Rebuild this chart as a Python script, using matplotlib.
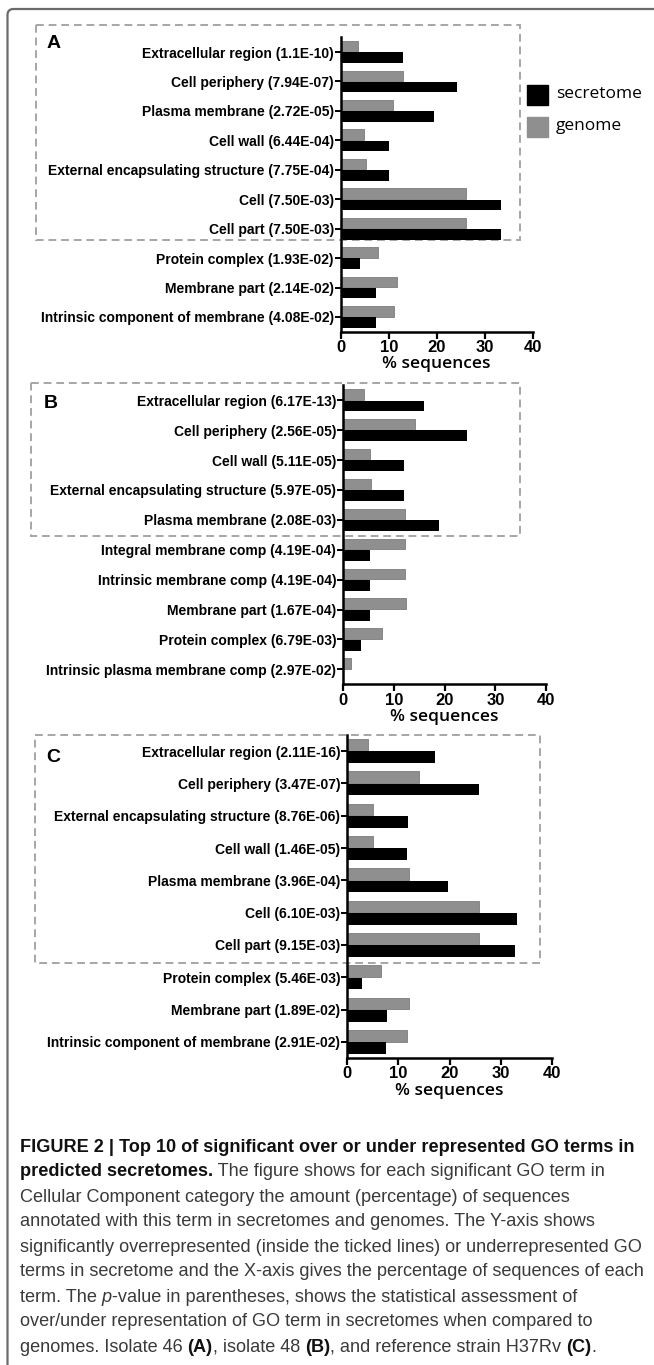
import numpy as np
import matplotlib
matplotlib.use('Agg')
import matplotlib.pyplot as plt
from matplotlib import font_manager
from matplotlib.patches import Rectangle, FancyBboxPatch

W, H = 654, 1365

# ---------------------------------------------------------------------------
# Data (% sequences)
# ---------------------------------------------------------------------------
terms_a = ["Extracellular region (1.1E-10)", "Cell periphery (7.94E-07)",
           "Plasma membrane (2.72E-05)", "Cell wall (6.44E-04)",
           "External encapsulating structure (7.75E-04)", "Cell (7.50E-03)",
           "Cell part (7.50E-03)", "Protein complex (1.93E-02)",
           "Membrane part (2.14E-02)", "Intrinsic component of membrane (4.08E-02)"]
secretome_a = [12.9, 24.2, 19.5, 10.0, 10.1, 33.3, 33.3, 4.1, 7.4, 7.4]
genome_a    = [3.5, 13.0, 10.8, 4.9, 5.2, 26.0, 26.0, 7.8, 11.8, 11.2]

terms_b = ["Extracellular region (6.17E-13)", "Cell periphery (2.56E-05)",
           "Cell wall (5.11E-05)", "External encapsulating structure (5.97E-05)",
           "Plasma membrane (2.08E-03)", "Integral membrane comp (4.19E-04)",
           "Intrinsic membrane comp (4.19E-04)", "Membrane part (1.67E-04)",
           "Protein complex (6.79E-03)", "Intrinsic plasma membrane comp (2.97E-02)"]
secretome_b = [16.0, 24.4, 11.9, 11.9, 18.9, 5.3, 5.3, 5.3, 3.5, 0.0]
genome_b    = [4.1, 14.2, 5.3, 5.4, 12.1, 12.1, 12.1, 12.4, 7.6, 1.6]

terms_c = ["Extracellular region (2.11E-16)", "Cell periphery (3.47E-07)",
           "External encapsulating structure (8.76E-06)", "Cell wall (1.46E-05)",
           "Plasma membrane (3.96E-04)", "Cell (6.10E-03)", "Cell part (9.15E-03)",
           "Protein complex (5.46E-03)", "Membrane part (1.89E-02)",
           "Intrinsic component of membrane (2.91E-02)"]
secretome_c = [17.2, 25.8, 11.9, 11.7, 19.6, 33.1, 32.8, 2.8, 7.7, 7.6]
genome_c    = [4.0, 14.1, 5.1, 5.0, 12.1, 25.7, 25.7, 6.5, 12.1, 11.7]

x_ticks = [0, 10, 20, 30, 40]
series_names = ["secretome", "genome"]

caption_lines = [
    [("FIGURE 2 | Top 10 of significant over or under represented GO terms in", 'b')],
    [("predicted secretomes.", 'b'), (" The figure shows for each significant GO term in", 'r')],
    [("Cellular Component category the amount (percentage) of sequences", 'r')],
    [("annotated with this term in secretomes and genomes. The Y-axis shows", 'r')],
    [("significantly overrepresented (inside the ticked lines) or underrepresented GO", 'r')],
    [("terms in secretome and the X-axis gives the percentage of sequences of each", 'r')],
    [("term. The ", 'r'), ("p", 'i'), ("-value in parentheses, shows the statistical assessment of", 'r')],
    [("over/under representation of GO term in secretomes when compared to", 'r')],
    [("genomes. Isolate 46 ", 'r'), ("(A)", 'b'), (", isolate 48 ", 'r'), ("(B)", 'b'),
     (", and reference strain H37Rv ", 'r'), ("(C)", 'b'), (".", 'r')],
]

GREY = '#8f8f8f'


def has_font(name):
    return any(f.name == name for f in font_manager.fontManager.ttflist)


NARROW = 'Liberation Sans Narrow' if has_font('Liberation Sans Narrow') else 'Liberation Sans'

fig = plt.figure(figsize=(W / 100, H / 100), dpi=100)


def px_axes(left, top, right, bottom, **kw):
    """Axes placed by pixel box (origin top-left)."""
    return fig.add_axes([left / W, 1 - bottom / H, (right - left) / W, (bottom - top) / H], **kw)


# full-figure overlay in pixel units for frame, boxes, legend and caption
bg = px_axes(0, 0, W, H)
bg.set_xlim(0, W)
bg.set_ylim(H, 0)
bg.axis('off')
bg.set_zorder(-1)

bg.add_patch(FancyBboxPatch((7.5, 9), W + 20, H + 20,
                            boxstyle='round,pad=0,rounding_size=6',
                            fill=False, ec='#6a6a6a', lw=1.6))


def draw_panel(box, terms, sec, gen):
    left, top, right, bottom = box
    ax = px_axes(left, top, right, bottom)
    ax.patch.set_alpha(0)
    y = np.arange(len(terms))
    ax.barh(y - 0.19, gen, height=0.36, color=GREY, edgecolor='#7c7c7c', linewidth=0.6)
    ax.barh(y + 0.19, sec, height=0.36, color='black')
    ax.set_ylim(len(terms) - 0.5, -0.5)
    ax.set_xlim(0, 40)
    ax.set_xticks(x_ticks)
    ax.set_xticklabels([str(t) for t in x_ticks], fontfamily=NARROW,
                       fontweight='bold', fontsize=12)
    ax.set_yticks(y)
    ax.set_yticklabels(terms, fontfamily=NARROW, fontweight='bold', fontsize=10)
    for s in ('top', 'right'):
        ax.spines[s].set_visible(False)
    for s in ('left', 'bottom'):
        ax.spines[s].set_linewidth(1.8)
    ax.tick_params(axis='y', length=4, width=1.4, pad=1)
    ax.tick_params(axis='x', length=5, width=1.6, pad=1)
    ax.set_xlabel('% sequences', fontfamily='Open Sans', fontweight='semibold',
                  fontsize=12.5, labelpad=1)
    return ax


draw_panel((340.7, 37.3, 532.7, 331.7), terms_a, secretome_a, genome_a)
draw_panel((343.3, 385.3, 546.0, 684.3), terms_b, secretome_b, genome_b)
draw_panel((347.3, 735.0, 552.0, 1058.0), terms_c, secretome_c, genome_c)

# dashed boxes around over-represented terms
for (l, t, r, b) in [(36, 25, 519.5, 240), (31, 383, 520, 536), (35, 735, 540, 963)]:
    bg.add_patch(Rectangle((l, t), r - l, b - t, fill=False, ec='#a6a6a6',
                           lw=1.4, ls=(0, (4, 2.5))))

# panel letters
for letter, (lx, ly) in zip("ABC", [(47, 44), (44, 404), (46, 758)]):
    bg.text(lx, ly, letter, fontfamily='Liberation Sans', fontweight='bold',
            fontsize=14, ha='left', va='center')

# legend
for name, col, ly in zip(series_names, ['black', GREY], [85, 116.7]):
    bg.add_patch(Rectangle((527.3, ly), 20.4, 20, color=col))
    bg.text(556, ly + 9.5, name, fontfamily='Open Sans', fontsize=12.5,
            ha='left', va='center')

# caption, drawn run by run; size chosen so the widest line fits the text block
renderer = fig.canvas.get_renderer()
styles = {
    'b': dict(fontweight='bold', color='#111111'),
    'r': dict(fontweight='normal', color='#3a3a3a'),
    'i': dict(fontweight='normal', fontstyle='italic', color='#3a3a3a'),
}


def run_width(runs, size):
    total = 0
    for txt, st in runs:
        t = fig.text(0, 0, txt, fontfamily=NARROW, fontsize=size, **styles[st])
        total += t.get_window_extent(renderer=renderer).width
        t.remove()
    return total


base = 13.5
widest = max(run_width(r, base) for r in caption_lines)
cap_size = base * 626 / widest

for i, runs in enumerate(caption_lines):
    x = 20
    y = 1147 + 25 * i
    for txt, st in runs:
        t = bg.text(x, y, txt, fontfamily=NARROW, fontsize=cap_size,
                    ha='left', va='center', **styles[st])
        x += t.get_window_extent(renderer=renderer).width

fig.savefig('out.png', dpi=100)
